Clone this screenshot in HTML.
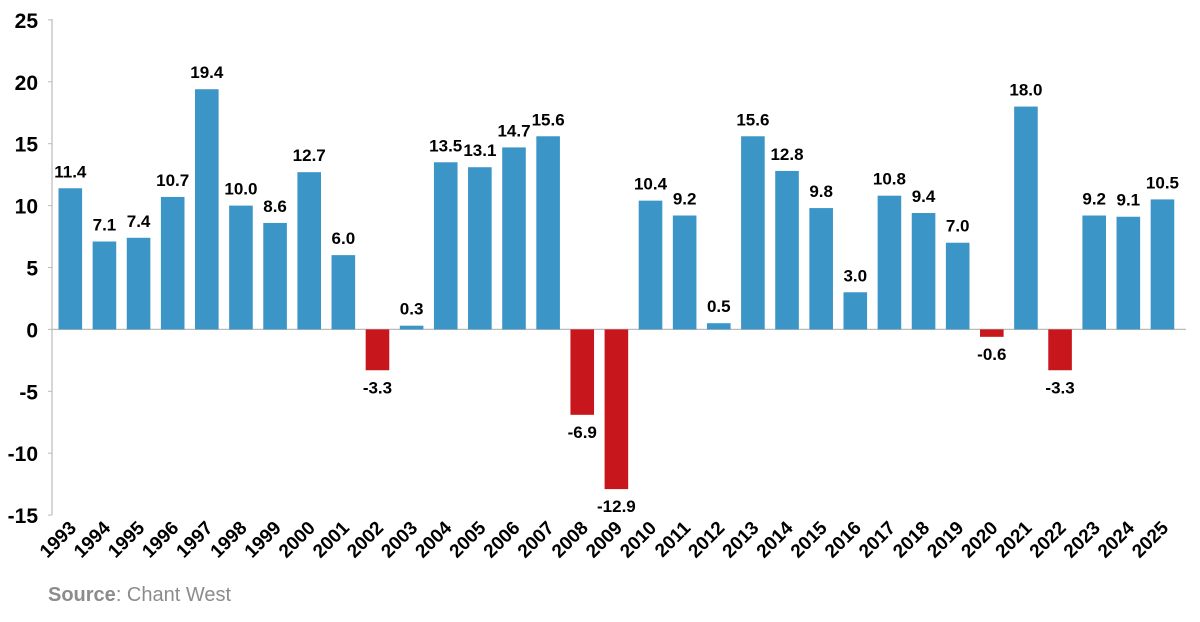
<!DOCTYPE html>
<html><head><meta charset="utf-8"><style>body{margin:0;background:#fff}</style></head><body>
<svg width="1200" height="617" xmlns="http://www.w3.org/2000/svg" font-family="Liberation Sans, Arial, sans-serif">
<g id="c"></g>
<text x="48" y="601" font-size="20" fill="#8c8c8c"><tspan font-weight="bold">Source</tspan>: Chant West</text>
</svg>
<script>
const v=[11.4,7.1,7.4,10.7,19.4,10.0,8.6,12.7,6.0,-3.3,0.3,13.5,13.1,14.7,15.6,-6.9,-12.9,10.4,9.2,0.5,15.6,12.8,9.8,3.0,10.8,9.4,7.0,-0.6,18.0,-3.3,9.2,9.1,10.5];
const g=document.getElementById('c');let s='';
const y=t=>329.4-t*12.38;
s+=`<line x1="52" y1="19" x2="52" y2="515" stroke="#bbb" stroke-width="1.2"/>`;
for(let t=-15;t<=25;t+=5){s+=`<line x1="48" y1="${y(t)}" x2="52" y2="${y(t)}" stroke="#bbb"/><text x="38" y="${y(t)+8}" font-size="21" font-weight="bold" text-anchor="end">${t}</text>`;}
s+=`<line x1="52" y1="${y(0)}" x2="1186" y2="${y(0)}" stroke="#bbb" stroke-width="1.2"/>`;
v.forEach((d,i)=>{const cx=70.3+i*34.13;const top=d>=0?y(d):y(0);const h=Math.abs(y(d)-y(0));
const col=d>=0?'#3c95c7':'#c8161d';
s+=`<rect x="${cx-11.8}" y="${top}" width="23.6" height="${h}" fill="${col}"/>`;
const ly=d>=0?y(d)-11:y(d)+23;
s+=`<text x="${cx}" y="${ly}" font-size="17" font-weight="bold" text-anchor="middle">${d.toFixed(1)}</text>`;
s+=`<text transform="translate(${cx+7},${529}) rotate(-45)" font-size="19" font-weight="bold" text-anchor="end">${1993+i}</text>`;});
g.innerHTML=s;
</script>
</body></html>
